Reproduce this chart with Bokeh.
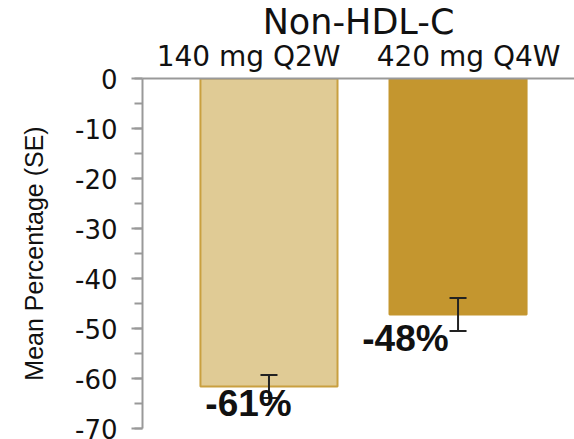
from bokeh.plotting import figure
from bokeh.models import (Range1d, SingleIntervalTicker, FixedTicker, Whisker,
                          ColumnDataSource, TeeHead, PrintfTickFormatter)
from bokeh.core.properties import value
from bokeh.embed import file_html
from bokeh.resources import INLINE

# ---- data ----
categories = ["140 mg Q2W", "420 mg Q4W"]
mean_pct = [-61.6, -47.2]
se_pct = [2.3, 3.3]
labels = ["-61%", "-48%"]
bar_colors = ["#e0cb95", "#c4962f"]
bar_edges = ["#c9a040", "#c4962f"]

xs = [i + 1 for i in range(len(categories))]
src = ColumnDataSource(dict(
    x=xs, top=[0] * len(xs), bottom=mean_pct,
    upper=[m + s for m, s in zip(mean_pct, se_pct)],
    lower=[m - s for m, s in zip(mean_pct, se_pct)],
    fill=bar_colors, edge=bar_edges,
))

p = figure(frame_width=432, frame_height=350,
           x_range=Range1d(0.331, 2.616), y_range=Range1d(-70, 0),
           x_axis_location="above",
           output_backend="svg", toolbar_location=None,
           min_border_left=142, min_border_right=0,
           min_border_top=78, min_border_bottom=11,
           background_fill_color="white", border_fill_color="white")
p.outline_line_color = None
p.grid.grid_line_color = None

p.vbar(x="x", top="top", bottom="bottom", width=0.725, source=src,
       fill_color="fill", line_color="edge", line_width=2)

w = Whisker(base="x", upper="upper", lower="lower", source=src,
            line_color="#222222", line_width=2, level="annotation",
            upper_head=TeeHead(size=17, line_color="#222222", line_width=2),
            lower_head=TeeHead(size=17, line_color="#222222", line_width=2))
p.add_layout(w)

# value labels
lab_x = [xs[0] - 0.108, xs[1] - 0.278]
lab_y = [-65.0, -52.0]
t = p.text(x=lab_x, y=lab_y, text=labels,
           text_font=value("Liberation Sans"), text_font_style="bold",
           text_font_size="37px", text_align="center", text_baseline="middle",
           text_color="#111111")
t.level = "overlay"

# y axis
ya = p.yaxis[0]
ya.ticker = SingleIntervalTicker(interval=10, num_minor_ticks=2)
ya.formatter = PrintfTickFormatter(format="%d")
ya.axis_label = "Mean Percentage (SE)"
ya.axis_label_text_font = "Liberation Sans"
ya.axis_label_text_font_size = "25px"
ya.axis_label_text_font_style = "normal"
ya.axis_label_text_color = "#111111"
ya.axis_label_standoff = 24
ya.major_label_text_font = "DejaVu Sans"
ya.major_label_text_font_size = "26px"
ya.major_label_text_color = "#111111"
ya.major_label_standoff = 14
ya.axis_line_color = "#999999"
ya.axis_line_width = 2
ya.major_tick_line_color = "#999999"
ya.major_tick_line_width = 2
ya.major_tick_out = 11
ya.major_tick_in = 0
ya.minor_tick_line_color = "#999999"
ya.minor_tick_line_width = 2
ya.minor_tick_out = 8
ya.minor_tick_in = 0

# top axis with group labels
xa = p.xaxis[0]
cat_pos = [xs[0] - 0.108, xs[1] + 0.056]
xa.ticker = FixedTicker(ticks=cat_pos)
xa.major_label_overrides = {cp: c for cp, c in zip(cat_pos, categories)}
xa.major_label_text_font = "DejaVu Sans"
xa.major_label_text_font_size = "28px"
xa.major_label_text_color = "#111111"
xa.major_label_standoff = 0
xa.major_tick_line_color = None
xa.minor_tick_line_color = None
xa.axis_line_color = "#999999"
xa.axis_line_width = 2

p.title.text = "Non-HDL-C"
p.title.align = "center"
p.title.text_font = "DejaVu Sans"
p.title.text_font_size = "35px"
p.title.text_font_style = "normal"
p.title.text_color = "#111111"
p.title.offset = 5
p.title.standoff = -11

open("out.html", "w").write(file_html(p, INLINE))
